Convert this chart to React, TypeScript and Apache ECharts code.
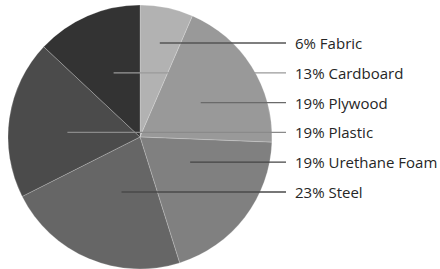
import React, { useEffect, useRef } from "react";
import * as echarts from "echarts";

// Slices clockwise from 12 o'clock
const names = ["Fabric", "Plywood", "Urethane Foam", "Steel", "Plastic", "Cardboard"];
const values = [6.5, 19.1, 19.5, 22.4, 19.4, 13.0];
const percentLabels = ["6%", "19%", "19%", "23%", "19%", "13%"];

// styling
const sliceColors = ["#b2b2b2", "#999999", "#808080", "#666666", "#4b4b4b", "#333333"];
const leaderColors = ["#555555", "#6a6a6a", "#444444", "#4a4a4a", "#8a8a8a", "#9a9a9a"];
const leaderStartFrac = [0.15, 0.46, 0.38, -0.14, -0.55, -0.2];

const CX = 140;
const CY = 137;
const R = 132;
const LABEL_X = 295;
const LINE_END_X = 286;
const LABEL_TOP = 43;
const LABEL_STEP = 29.8;

export default function App() {
  const ref = useRef<HTMLDivElement>(null);
  useEffect(() => {
    if (!ref.current) return;
    const chart = echarts.init(ref.current, undefined, { renderer: "svg" });
    const order = values
      .map((v, i) => ({ v, i }))
      .sort((a, b) => a.v - b.v)
      .map((o) => o.i);
    const rank: number[] = [];
    order.forEach((idx, r) => (rank[idx] = r));

    const base = {
      type: "pie",
      center: [CX, CY],
      radius: R,
      startAngle: 90,
      clockwise: true,
      avoidLabelOverlap: false,
      emphasis: { disabled: true },
      silent: true,
    };

    chart.setOption({
      animation: false,
      series: [
        {
          ...base,
          z: 2,
          itemStyle: { borderColor: "rgba(255,255,255,0.35)", borderWidth: 0.6 },
          label: { show: false },
          labelLine: { show: false },
          data: names.map((n, i) => ({
            name: n,
            value: values[i],
            itemStyle: { color: sliceColors[i] },
          })),
        },
        {
          ...base,
          z: 3,
          itemStyle: { color: "rgba(0,0,0,0)", borderWidth: 0 },
          label: {
            show: true,
            position: "outside",
            color: "#262626",
            fontFamily: "Open Sans",
            fontWeight: 500,
            fontSize: 15,
            formatter: (p: any) => `${percentLabels[p.dataIndex]} ${p.name}`,
          },
          labelLine: { show: true, lineStyle: { width: 1.3 } },
          labelLayout: (p: any) => {
            const i = p.dataIndex;
            const y = LABEL_TOP + rank[i] * LABEL_STEP;
            const sx = CX + leaderStartFrac[i] * R;
            return {
              x: LABEL_X,
              y,
              align: "left",
              verticalAlign: "middle",
              labelLinePoints: [
                [sx, y],
                [(sx + LINE_END_X) / 2, y],
                [LINE_END_X, y],
              ],
            };
          },
          data: names.map((n, i) => ({
            name: n,
            value: values[i],
            labelLine: { lineStyle: { color: leaderColors[i] } },
          })),
        },
      ],
    });
    return () => chart.dispose();
  }, []);
  return (
    <div
      ref={ref}
      style={{ position: "fixed", left: 0, top: 0, width: 440, height: 269, background: "#fff" }}
    />
  );
}
